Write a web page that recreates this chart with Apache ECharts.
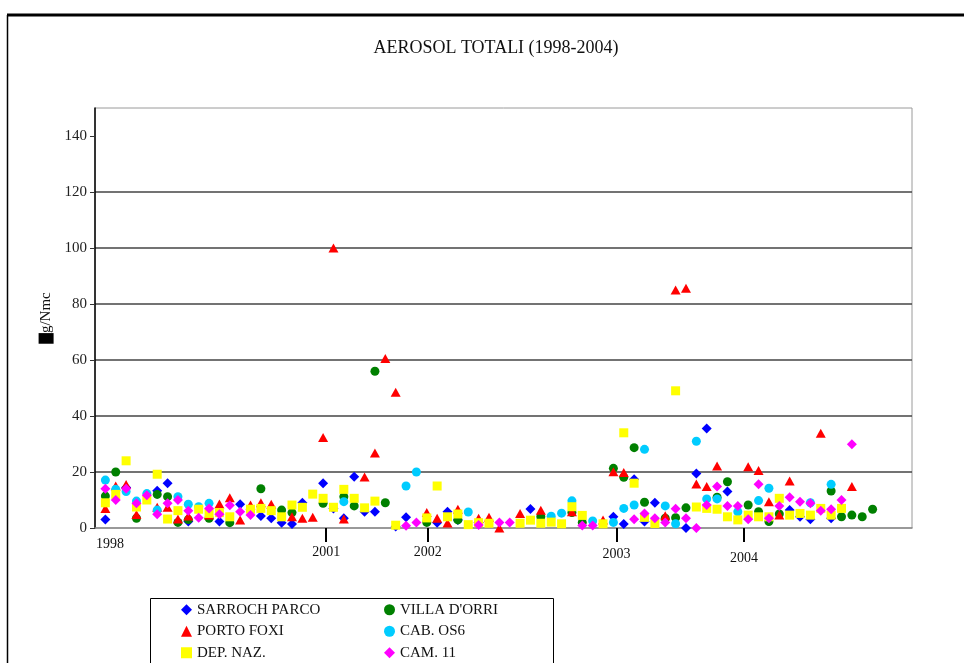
<!DOCTYPE html>
<html>
<head>
<meta charset="utf-8">
<title>Aerosol totali 1998-2004</title>
<script src="https://cdn.jsdelivr.net/npm/echarts@6/dist/echarts.min.js"></script>
<style>
html, body { margin: 0; padding: 0; background: #fff; }
#chart { width: 964px; height: 663px; }
</style>
</head>
<body>
<div id="chart"></div>
<script>
// valori in µg/Nmc, un campione per colonna (indice 0..74), null = nessun dato visibile
const sarroch = [
  3, null, 14.5, null, null, 13.3, 16, null, 2.3, null,
  null, 2.3, null, 8.5, null, 4.3, 3.5, 1.9, 1.4, 9,
  null, 16, 7, 3.5, 18.3, 5.8, 5.8, null, 0.5, 3.8,
  null, null, 1.9, 5.8, 2.9, null, 1.9, null, null, null,
  null, 6.8, null, null, null, null, null, null, null, 4,
  1.4, 17.4, 2.3, 9, null, null, 0, 19.5, 35.5, null,
  13, null, null, null, null, null, 6.4, 4, 3.1, null,
  3.5, null, null, null, null
]
const villa = [
  11.4, 20, null, 3.5, null, 12, 11.2, 2, 3, null,
  3.5, null, 1.9, null, null, 14, null, 6.4, 5.5, null,
  null, 8.8, null, 11.2, 7.9, null, 56, 9, null, null,
  null, 2, null, null, 2.9, null, null, null, null, null,
  null, null, 4, null, null, 5.5, 2, null, null, 21.3,
  18.1, 28.7, 9.2, null, 3.5, 3.7, 7.2, null, null, 11,
  16.5, null, 8.2, 5.8, 2.3, 5, null, null, null, null,
  13.2, 4, 4.6, 4, 6.7
]
const porto = [
  7, 15, 15.5, 4.8, null, 7.4, 7.4, 3.2, 4.3, null,
  4.6, 8.6, 10.8, 2.9, 8.2, 9, 8.5, null, 4, 3.5,
  3.8, 32.3, 100, 3.2, null, 18.2, 26.8, 60.5, 48.5, null,
  null, 5.5, 3.5, 1.8, 6.7, null, 3.5, 3.8, 0, null,
  5.2, null, 6.3, null, null, 5.8, null, null, 2.9, 20.1,
  19.8, null, null, null, 4.4, 85, 85.6, 15.7, 14.8, 22.1,
  null, null, 21.9, 20.5, 9.4, 4.6, 16.8, null, null, 33.8,
  null, null, 14.8, null, null
]
const cab = [
  17.1, 13.8, 13, 9.6, 12.3, 6.4, null, 11.2, 8.5, 7.6,
  8.8, null, null, null, null, null, null, null, null, null,
  null, null, null, 9.4, null, null, null, null, null, 15,
  20, null, null, null, null, 5.7, null, null, null, null,
  null, null, null, 4.2, 5.3, 9.7, null, 2.5, null, 2,
  7, 8.2, 28.1, null, 7.9, 1.5, null, 31, 10.4, 10.4,
  null, 5.8, null, 9.8, 14.2, null, null, null, 9, null,
  15.6, null, null, null, null
]
const dep = [
  9, 12, 24, 7.5, 10, 19.2, 3.2, 6.2, null, 6.7,
  5.2, 5.5, 4, null, 6.7, 7, 6.2, 4, 8.2, 7.4,
  12.1, 10.6, 7.4, 13.8, 10.6, 7.2, 9.6, null, 1, null,
  null, 3.6, 15, 4, 5, 1.2, 1.9, 1.7, null, null,
  1.7, 2.8, 1.7, 2.1, 1.5, 7.6, 4.5, null, 1.5, null,
  34, 16, 3.8, 1.6, null, 49, null, 7.5, 7, 6.7,
  4, 2.9, 4.6, 4, 4, 10.6, 4.6, 5.2, 4.6, 7,
  4.6, 7, null, null, null
]
const cam = [
  14, 10, 14, 8.8, 11.7, 4.9, 8.8, 10, 6.2, 3.7,
  7, 4.9, 8.1, 5.8, 4.6, null, null, null, null, null,
  null, null, null, null, null, null, null, null, null, 0.8,
  2, null, null, null, null, null, 1.1, null, 2, 2,
  null, null, null, null, null, null, 0.9, 0.9, null, null,
  null, 3.1, 5.2, 3.5, 2, 6.9, 3.5, 0, 8.2, 14.8,
  7.9, 7.9, 3.1, 15.6, 3.5, 7.9, 11, 9.4, 8.8, 6.2,
  6.7, 10, 29.9, null, null
]

const seriesNames = ['SARROCH PARCO', 'VILLA D\'ORRI', 'PORTO FOXI', 'CAB. OS6', 'DEP. NAZ.', 'CAM. 11']
const yearLabels = ['1998', '2001', '2002', '2003', '2004']
const yearLabelPos = [0.45, 21.3, 31.1, 49.3, 61.6]
const yearTickPos = [21.3, 31.1, 49.3, 61.6]
const yTicks = [0, 20, 40, 60, 80, 100, 120, 140]

const serif = 'Liberation Serif'

function toPoints (arr) {
  const out = []
  arr.forEach((v, i) => {
    if (v !== null) out.push([i, v])
  })
  return out
}

function scatter (name, data, symbol, size, color) {
  return {
    name: name,
    type: 'scatter',
    data: toPoints(data),
    symbol: symbol,
    symbolSize: size,
    itemStyle: { color: color, opacity: 1 }
  }
}

const chart = echarts.init(document.getElementById('chart'))
chart.setOption({
  animation: false,
  backgroundColor: '#fff',
  title: {
    text: 'AEROSOL TOTALI (1998-2004)',
    left: 496,
    textAlign: 'center',
    top: 39,
    padding: 0,
    textStyle: { fontFamily: serif, fontSize: 18, fontWeight: 'normal', color: '#111' }
  },
  grid: { left: 95, right: 52, top: 108, bottom: 135, show: true, borderColor: '#9a9a9a', borderWidth: 1 },
  xAxis: {
    type: 'value',
    min: -1,
    max: 77.8,
    splitLine: { show: false },
    axisLine: { onZero: false, lineStyle: { color: '#888', width: 1.5 } },
    axisTick: {
      customValues: yearTickPos,
      length: 14,
      lineStyle: { color: '#000', width: 2 }
    },
    axisLabel: {
      customValues: yearLabelPos,
      margin: 9,
      fontFamily: serif,
      fontSize: 14,
      color: '#111',
      formatter: function (value) {
        const i = yearLabelPos.indexOf(value)
        return i < 0 ? '' : '{y' + i + '|' + yearLabels[i] + '}'
      },
      rich: {
        y0: { padding: [0, 0, 0, 0] },
        y1: { padding: [8, 0, 0, 0] },
        y2: { padding: [8, 0, 0, 0] },
        y3: { padding: [10, 0, 0, 0] },
        y4: { padding: [14, 0, 0, 0] }
      }
    }
  },
  yAxis: {
    type: 'value',
    min: 0,
    max: 150,
    interval: 20,
    name: '{mu|µ}{t|g/Nmc}',
    nameLocation: 'middle',
    nameRotate: 90,
    nameGap: 40,
    nameTextStyle: {
      rich: {
        mu: { backgroundColor: '#000', color: '#000', fontFamily: serif, fontSize: 15, padding: [0, 1, 0, 1] },
        t: { fontFamily: serif, fontSize: 15, color: '#111' }
      }
    },
    axisLine: { show: true, onZero: false, lineStyle: { color: '#000', width: 1.5 } },
    axisTick: { show: true, customValues: yTicks, length: 5, lineStyle: { color: '#333' } },
    axisLabel: {
      customValues: yTicks,
      margin: 8,
      fontFamily: serif,
      fontSize: 15,
      color: '#222'
    },
    splitLine: {
      show: true,
      showMinLine: false,
      showMaxLine: false,
      lineStyle: { color: '#444', width: 1.5 }
    }
  },
  legend: {
    data: seriesNames,
    orient: 'horizontal',
    left: 181,
    top: 599,
    width: 420,
    padding: 0,
    itemGap: 0,
    itemWidth: 11,
    itemHeight: 11,
    textStyle: { fontFamily: serif, fontSize: 15, color: '#111', width: 187, lineHeight: 21.5 }
  },
  graphic: [
    { type: 'line', shape: { x1: 7, y1: 15, x2: 964, y2: 15 }, style: { stroke: '#000', lineWidth: 3 } },
    { type: 'line', shape: { x1: 7.5, y1: 15, x2: 7.5, y2: 663 }, style: { stroke: '#000', lineWidth: 1.5 } },
    { type: 'rect', shape: { x: 150.5, y: 598.5, width: 403, height: 100 }, style: { fill: 'none', stroke: '#000', lineWidth: 1 } }
  ],
  series: [
    scatter(seriesNames[0], sarroch, 'diamond', 10, '#0000ff'),
    scatter(seriesNames[1], villa, 'circle', 9, '#008000'),
    scatter(seriesNames[2], porto, 'triangle', [10, 9], '#ff0000'),
    scatter(seriesNames[3], cab, 'circle', 9, '#00ccff'),
    scatter(seriesNames[4], dep, 'rect', 9, '#ffff00'),
    scatter(seriesNames[5], cam, 'diamond', 10, '#ff00ff')
  ]
})
</script>
</body>
</html>
